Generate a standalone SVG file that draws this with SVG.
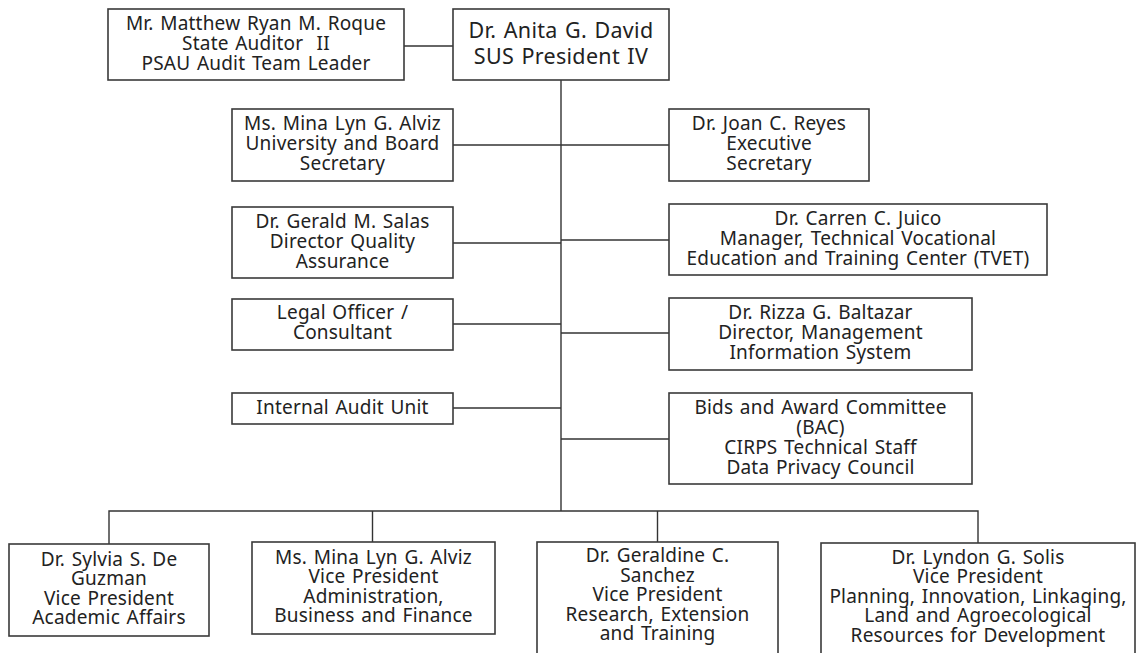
<svg xmlns="http://www.w3.org/2000/svg" width="1136" height="653" viewBox="0 0 1136 653">
<style>
.box{fill:#fff;stroke:#3a3a3a;stroke-width:1.6}
.t{font-family:"Noto Sans","DejaVu Sans",sans-serif;font-size:19px;letter-spacing:0.2px;word-spacing:1.5px;fill:#222;text-anchor:middle}
.big{font-size:21.5px;letter-spacing:0.3px}
.ln{fill:none;stroke:#333;stroke-width:1.4}
</style>
<rect width="1136" height="653" fill="#fff"/>
<g id="connectors">
<path class="ln" d="M404 46H453"/>
<path class="ln" d="M561 80V511"/>
<path class="ln" d="M453 145H669"/>
<path class="ln" d="M453 243H561"/>
<path class="ln" d="M561 240H669"/>
<path class="ln" d="M453 324H561"/>
<path class="ln" d="M561 333H669"/>
<path class="ln" d="M453 408H561"/>
<path class="ln" d="M561 439H669"/>
<path class="ln" d="M109 544V511H978V543"/>
<path class="ln" d="M372.5 511V542"/>
<path class="ln" d="M657.5 511V542"/>
</g>
<g id="roque">
<rect class="box" x="108" y="9" width="296" height="71"/>
<text class="t" x="256" xml:space="preserve"><tspan x="256" y="30">Mr. Matthew Ryan M. Roque</tspan><tspan x="256" y="50">State Auditor  II</tspan><tspan x="256" y="70">PSAU Audit Team Leader</tspan></text>
</g>
<g id="david">
<rect class="box" x="453" y="9" width="216" height="71"/>
<text class="t big"><tspan x="561" y="38">Dr. Anita G. David</tspan><tspan x="561" y="64">SUS President IV</tspan></text>
</g>
<g id="alviz">
<rect class="box" x="232" y="109" width="221" height="72"/>
<text class="t"><tspan x="342.5" y="130">Ms. Mina Lyn G. Alviz</tspan><tspan x="342.5" y="150">University and Board</tspan><tspan x="342.5" y="170">Secretary</tspan></text>
</g>
<g id="reyes">
<rect class="box" x="669" y="109" width="200" height="72"/>
<text class="t"><tspan x="769" y="130">Dr. Joan C. Reyes</tspan><tspan x="769" y="150">Executive</tspan><tspan x="769" y="170">Secretary</tspan></text>
</g>
<g id="salas">
<rect class="box" x="232" y="207" width="221" height="71"/>
<text class="t"><tspan x="342.5" y="227.5">Dr. Gerald M. Salas</tspan><tspan x="342.5" y="247.5">Director Quality</tspan><tspan x="342.5" y="267.5">Assurance</tspan></text>
</g>
<g id="juico">
<rect class="box" x="669" y="204" width="378" height="71"/>
<text class="t"><tspan x="858" y="224.5">Dr. Carren C. Juico</tspan><tspan x="858" y="244.5">Manager, Technical Vocational</tspan><tspan x="858" y="264.5">Education and Training Center (TVET)</tspan></text>
</g>
<g id="legal">
<rect class="box" x="232" y="299" width="221" height="51"/>
<text class="t"><tspan x="342.5" y="319">Legal Officer /</tspan><tspan x="342.5" y="339">Consultant</tspan></text>
</g>
<g id="baltazar">
<rect class="box" x="669" y="298" width="303" height="72"/>
<text class="t"><tspan x="820.5" y="319">Dr. Rizza G. Baltazar</tspan><tspan x="820.5" y="339">Director, Management</tspan><tspan x="820.5" y="359">Information System</tspan></text>
</g>
<g id="audit">
<rect class="box" x="232" y="393" width="221" height="31"/>
<text class="t" x="342.5" y="414">Internal Audit Unit</text>
</g>
<g id="bac">
<rect class="box" x="669" y="393" width="303" height="91"/>
<text class="t"><tspan x="820.5" y="413.5">Bids and Award Committee</tspan><tspan x="820.5" y="433.5">(BAC)</tspan><tspan x="820.5" y="453.5">CIRPS Technical Staff</tspan><tspan x="820.5" y="473.5">Data Privacy Council</tspan></text>
</g>
<g id="deguzman">
<rect class="box" x="9" y="544" width="200" height="92"/>
<text class="t"><tspan x="109" y="565.5">Dr. Sylvia S. De</tspan><tspan x="109" y="585">Guzman</tspan><tspan x="109" y="604.5">Vice President</tspan><tspan x="109" y="624">Academic Affairs</tspan></text>
</g>
<g id="alviz-vp">
<rect class="box" x="252" y="542" width="243" height="92"/>
<text class="t"><tspan x="373.5" y="563.5">Ms. Mina Lyn G. Alviz</tspan><tspan x="373.5" y="583">Vice President</tspan><tspan x="373.5" y="602.5">Administration,</tspan><tspan x="373.5" y="622">Business and Finance</tspan></text>
</g>
<g id="sanchez">
<rect class="box" x="537" y="542" width="241" height="120"/>
<text class="t"><tspan x="657.5" y="562">Dr. Geraldine C.</tspan><tspan x="657.5" y="581.5">Sanchez</tspan><tspan x="657.5" y="601">Vice President</tspan><tspan x="657.5" y="620.5">Research, Extension</tspan><tspan x="657.5" y="640">and Training</tspan></text>
</g>
<g id="solis">
<rect class="box" x="821" y="543" width="314" height="120"/>
<text class="t"><tspan x="978" y="563.5">Dr. Lyndon G. Solis</tspan><tspan x="978" y="583">Vice President</tspan><tspan x="978" y="602.5">Planning, Innovation, Linkaging,</tspan><tspan x="978" y="622">Land and Agroecological</tspan><tspan x="978" y="641.5">Resources for Development</tspan></text>
</g>
</svg>
